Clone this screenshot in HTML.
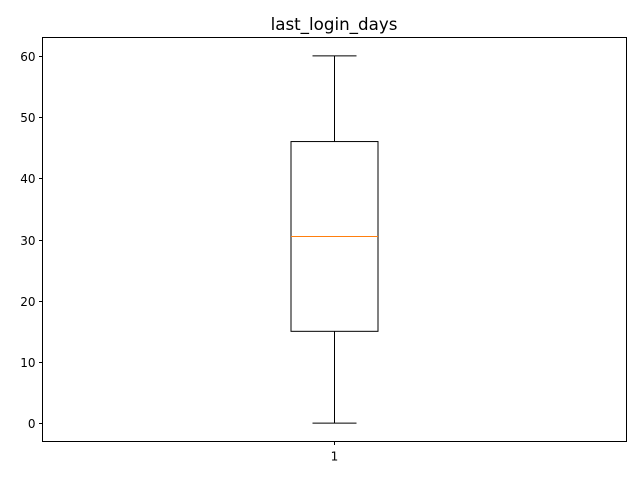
<!DOCTYPE html>
<html><head><meta charset="utf-8"><style>
body{margin:0;background:#fff;}
svg text{font-family:"DejaVu Sans","Liberation Sans",sans-serif;}
</style></head><body>
<svg id="chart" width="640" height="480" viewBox="0 0 640 480">
<rect width="640" height="480" fill="#fff"/>
<text x="334" y="30" text-anchor="middle" font-size="16.7">last_login_days</text>
<g id="axes"></g>
<g id="marks"></g>
<rect x="42.5" y="37.5" width="584" height="404" fill="none" stroke="#000" stroke-width="1"/>
</svg>
<script>
const categories = ["1"];
const whiskerLow = [0];
const q1 = [15];
const medians = [30.5];
const q3 = [46];
const whiskerHigh = [60];
const yTicks = [0, 10, 20, 30, 40, 50, 60];
const yMin = -3, yMax = 63;
const L = 42.5, R = 626.5, T = 37.5, B = 441.5;
const ns = "http://www.w3.org/2000/svg";
function y(v){ return B - (v - yMin) / (yMax - yMin) * (B - T); }
function x(i){ return L + (i + 0.5) / categories.length * (R - L) - 0.5; }
function mk(tag, attrs, parent){
  const e = document.createElementNS(ns, tag);
  for (const k in attrs) e.setAttribute(k, attrs[k]);
  parent.appendChild(e); return e;
}
const axes = document.getElementById('axes');
const marks = document.getElementById('marks');
yTicks.forEach(t => {
  const yy = Math.round(y(t)) + 0.5;
  const l = mk('line', {x1: L - 3.5, x2: L, y1: yy, y2: yy, stroke: '#000'}, axes);
  
  
  const tx = mk('text', {x: L - 7, y: yy + 4.5, 'text-anchor': 'end', 'font-size': '12'}, axes);
  tx.textContent = t;
  
  
});
categories.forEach((c, i) => {
  const cx = Math.round(x(i)) + 0.5;
  const tk = mk('line', {x1: cx, x2: cx, y1: B, y2: B + 3.5, stroke: '#000'}, axes);
  
  
  const tl = mk('text', {x: cx, y: B + 19, 'text-anchor': 'middle', 'font-size': '12'}, axes);
  tl.textContent = c;
  
  
  const bw = 87, cw = 44;
  const g = mk('g', {}, marks);
  
  
  mk('line', {x1: cx, x2: cx, y1: y(q1[i]), y2: y(whiskerLow[i]), stroke: '#000'}, g);
  mk('line', {x1: cx, x2: cx, y1: y(q3[i]), y2: y(whiskerHigh[i]), stroke: '#000'}, g);
  mk('line', {x1: cx - cw/2, x2: cx + cw/2, y1: y(whiskerLow[i]), y2: y(whiskerLow[i]), stroke: '#000'}, g);
  mk('line', {x1: cx - cw/2, x2: cx + cw/2, y1: y(whiskerHigh[i]), y2: y(whiskerHigh[i]), stroke: '#000'}, g);
  mk('rect', {x: cx - bw/2, y: y(q3[i]), width: bw, height: y(q1[i]) - y(q3[i]), fill: 'none', stroke: '#000'}, g);
  const m = mk('line', {x1: cx - bw/2, x2: cx + bw/2, y1: y(medians[i]), y2: y(medians[i]), stroke: '#ff7f0e'}, g);
  
  
});
</script>
</body></html>
